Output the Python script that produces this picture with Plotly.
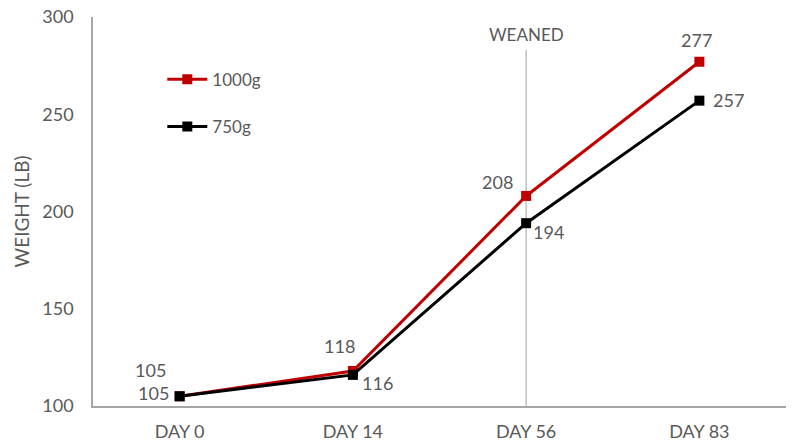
import plotly.graph_objects as go

categories = ["DAY 0", "DAY 14", "DAY 56", "DAY 83"]
s1000 = [105, 118, 208, 277]
s750 = [105, 116, 194, 257]
names = ["1000g", "750g"]
colors = ["#c00000", "#000000"]
# label offsets in pixels (dx, dy) relative to each point
off1000 = [(-29, 26), (-13, 25), (-29, 14), (-3, 22)]
off750 = [(-26, 3), (25, -8), (22, -9), (29, 1)]

font_fam = "Lato, Open Sans, sans-serif"
gray = "#595959"

fig = go.Figure()
for name, vals, col, offs, grp in [(names[0], s1000, colors[0], off1000, "a"),
                                   (names[1], s750, colors[1], off750, "b")]:
    fig.add_trace(go.Scatter(
        x=categories, y=vals, name=name, mode="lines+markers",
        line=dict(color=col, width=3), marker=dict(symbol="square", size=10, color=col),
        legendgroup=grp, cliponaxis=False,
    ))
    for c, v, (dx, dy) in zip(categories, vals, offs):
        fig.add_annotation(x=c, y=v, xref="x", yref="y", text=str(v), showarrow=False,
                           xshift=dx, yshift=dy,
                           font=dict(family=font_fam, size=18, color=gray))

fig.add_shape(type="line", xref="x", yref="y", x0="DAY 56", x1="DAY 56", y0=100, y1=283,
              line=dict(color="#bfbfbf", width=1.5), layer="below")
fig.add_annotation(x="DAY 56", y=291, xref="x", yref="y", text="WEANED", showarrow=False,
                   font=dict(family=font_fam, size=17, color=gray))

fig.update_layout(
    width=793, height=444,
    margin=dict(l=93, r=7, t=17, b=38),
    plot_bgcolor="white", paper_bgcolor="white",
    font=dict(family=font_fam, size=18, color=gray),
    showlegend=True,
    legend=dict(x=0.1, y=0.885, xanchor="left", yanchor="top", tracegroupgap=22, itemwidth=40,
                font=dict(family=font_fam, size=17, color=gray), bgcolor="rgba(0,0,0,0)"),
    xaxis=dict(type="category", range=[-0.5, 3.5], showline=True, linecolor="#a6a6a6", linewidth=1.5,
               showgrid=False, ticks="", ticklabelstandoff=9, automargin=False,
               tickfont=dict(size=18, color=gray)),
    yaxis=dict(range=[100, 300], dtick=50, showline=True, linecolor="#a6a6a6", linewidth=1.5,
               showgrid=False, ticks="", zeroline=False, ticklabelstandoff=14, automargin=False,
               tickfont=dict(size=18, color=gray),
               title=dict(text="WEIGHT (LB)", font=dict(size=19, color=gray), standoff=8)),
)

fig.write_html("out.html")
